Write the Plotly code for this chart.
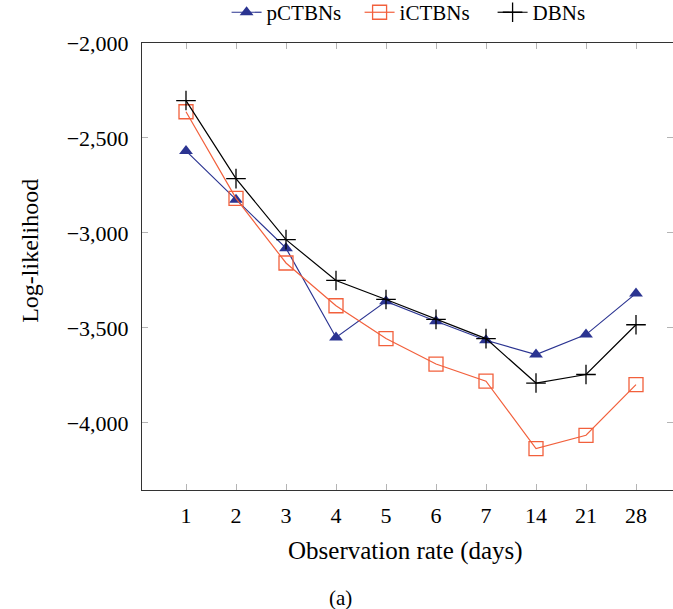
import plotly.graph_objects as go

categories = ["1", "2", "3", "4", "5", "6", "7", "14", "21", "28"]
pctbns = [-2568, -2825, -3080, -3550, -3360, -3465, -3565, -3640, -3535, -3318]
ictbns = [-2362, -2818, -3158, -3383, -3556, -3690, -3780, -4135, -4065, -3798]
dbns = [-2303, -2714, -3035, -3250, -3350, -3455, -3556, -3790, -3745, -3483]
ytickvals = [-2000, -2500, -3000, -3500, -4000]
yticktext = ["\u22122,000", "\u22122,500", "\u22123,000", "\u22123,500", "\u22124,000"]

FONT = "Liberation Serif"
BLUE = "#2b3491"
ORANGE = "#f2603c"
TICKC = "#b4b4b4"
LINEC = "#333333"

fig = go.Figure()
fig.add_trace(go.Scatter(
    x=categories, y=pctbns, name="pCTBNs", mode="lines+markers",
    line=dict(color=BLUE, width=1.2),
    marker=dict(symbol="triangle-up", size=12, color=BLUE),
))
fig.add_trace(go.Scatter(
    x=categories, y=ictbns, name="iCTBNs", mode="lines+markers",
    line=dict(color=ORANGE, width=1.2),
    marker=dict(symbol="square-open", size=14, color=ORANGE, line=dict(width=1.3, color=ORANGE)),
))
fig.add_trace(go.Scatter(
    x=categories, y=dbns, name="DBNs", mode="lines+markers",
    line=dict(color="black", width=1.2),
    marker=dict(symbol="cross-thin", size=14, color="black", line=dict(width=1.3, color="black")),
))
fig.add_trace(go.Scatter(x=[], y=[], yaxis="y2", showlegend=False, hoverinfo="skip"))

yrange = [-4353, -2000]
fig.update_layout(
    width=673, height=609,
    margin=dict(l=142, r=0, t=43, b=119, autoexpand=False),
    paper_bgcolor="white", plot_bgcolor="white",
    font=dict(family=FONT, size=22, color="black"),
    showlegend=True,
    legend=dict(orientation="h", x=0.535, xanchor="center", y=1.068, yanchor="middle",
                font=dict(size=21, family=FONT), bgcolor="rgba(0,0,0,0)", itemwidth=30,
                entrywidth=88),
    xaxis=dict(type="category", range=[-0.88, 9.74], showgrid=False, zeroline=False,
               showline=True, linecolor=LINEC, linewidth=1, mirror="ticks",
               ticks="inside", ticklen=6, tickcolor=TICKC, tickwidth=1,
               ticklabelstandoff=6, tickfont=dict(size=22, family=FONT)),
    yaxis=dict(range=yrange, showgrid=False, zeroline=False,
               showline=True, linecolor=LINEC, linewidth=1, mirror=False,
               ticks="inside", ticklen=6, tickcolor=TICKC, tickwidth=1,
               tickvals=ytickvals, ticktext=yticktext, ticklabelstandoff=8,
               tickfont=dict(size=22, family=FONT)),
    yaxis2=dict(range=yrange, overlaying="y", side="right", showgrid=False, zeroline=False,
                showline=False, ticks="inside", ticklen=6, tickcolor=TICKC, tickwidth=1,
                tickvals=ytickvals, showticklabels=False),
    annotations=[
        dict(text="Observation rate (days)", xref="paper", yref="paper", x=0.497, y=-0.1365,
             xanchor="center", yanchor="middle", showarrow=False, font=dict(size=25, family=FONT)),
        dict(text="Log-likelihood", xref="paper", yref="paper", x=-0.211, y=0.535, textangle=-90,
             xanchor="center", yanchor="middle", showarrow=False, font=dict(size=24, family=FONT)),
        dict(text="(a)", xref="paper", yref="paper", x=0.373, y=-0.2416,
             xanchor="center", yanchor="middle", showarrow=False, font=dict(size=21, family=FONT)),
    ],
)
fig.write_html("out.html")
